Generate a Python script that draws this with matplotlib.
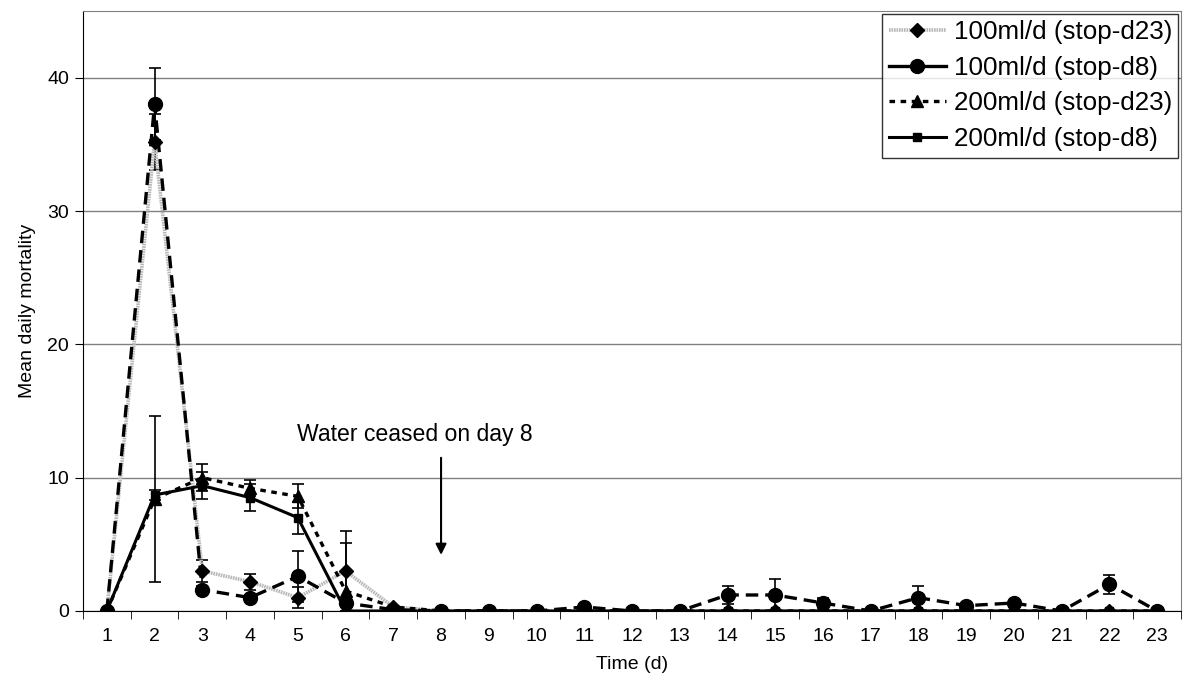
import numpy as np
import matplotlib
matplotlib.use("Agg")
from matplotlib import pyplot as plt
from matplotlib.ticker import MultipleLocator
from matplotlib.lines import Line2D

plt.rcParams['font.family'] = ['Liberation Sans', 'DejaVu Sans']
plt.rcParams['lines.scale_dashes'] = False

days = np.arange(1, 24)

# 100ml/d (stop-d23)
a_vals = [0, 35.2, 3.0, 2.2, 1.0, 3.0, 0.3, 0, 0, 0, 0, 0, 0, 0, 0, 0, 0, 0, 0, 0, 0, 0, 0]
a_err = [0, 2.1, 0.8, 0.6, 0.8, 3.0, 0, 0, 0, 0, 0, 0, 0, 0, 0, 0, 0, 0, 0, 0, 0, 0, 0]
# 100ml/d (stop-d8)
b_vals = [0, 38.0, 1.6, 1.0, 2.6, 0.6, 0.1, 0, 0, 0, 0.3, 0, 0, 1.2, 1.2, 0.6, 0, 1.0, 0.4, 0.6, 0, 2.0, 0]
b_err = [0, 2.7, 0.3, 0, 1.9, 0, 0, 0, 0, 0, 0.1, 0, 0, 0.7, 1.2, 0.4, 0, 0.9, 0.1, 0.1, 0, 0.7, 0]
# 200ml/d (stop-d23)
c_vals = [0, 8.4, 10.0, 9.2, 8.6, 1.5, 0.3, 0, 0, 0, 0, 0, 0, 0, 0, 0, 0, 0, 0, 0, 0, 0, 0]
c_err = [0, 6.2, 1.0, 0.6, 0.9, 3.6, 0, 0, 0, 0, 0, 0, 0, 0, 0, 0, 0, 0, 0, 0, 0, 0, 0]
# 200ml/d (stop-d8)
d_vals = [0, 8.7, 9.4, 8.5, 7.0, 0, 0, 0, 0, 0, 0, 0, 0, 0, 0, 0, 0, 0, 0, 0, 0, 0, 0]
d_err = [0, 0.4, 1.0, 1.0, 1.2, 0, 0, 0, 0, 0, 0, 0, 0, 0, 0, 0, 0, 0, 0, 0, 0, 0, 0]

labels = ['100ml/d (stop-d23)', '100ml/d (stop-d8)', '200ml/d (stop-d23)', '200ml/d (stop-d8)']

fig = plt.figure(figsize=(11.84, 6.97), dpi=100)
ax = fig.add_axes([0.0701, 0.1234, 0.9274, 0.8608])

ax.yaxis.grid(True, color='#808080', linewidth=1)
ax.set_axisbelow(True)

ekw = dict(ecolor='black', elinewidth=1.2, capsize=4, capthick=1.2)

ax.errorbar(days, a_vals, yerr=a_err, color='#b8b8b8', lw=2.6, dashes=(1.2, 0.6),
            marker='D', ms=7, mfc='black', mec='black', zorder=3, **ekw)
ax.errorbar(days, b_vals, yerr=b_err, color='black', lw=2.4, dashes=(9, 5),
            marker='o', ms=10, mfc='black', mec='black', zorder=4, **ekw)
ax.errorbar(days, c_vals, yerr=c_err, color='black', lw=2.4, dashes=(4, 4),
            marker='^', ms=9, mfc='black', mec='black', zorder=5, **ekw)
ax.errorbar(days, d_vals, yerr=d_err, color='black', lw=2.2, linestyle='-',
            marker='s', ms=6, mfc='black', mec='black', zorder=6, **ekw)

ax.set_xlim(0.5, 23.5)
ax.set_ylim(0, 45)
ax.set_xticks(days)
ax.set_xticklabels([str(d) for d in days])
ax.xaxis.set_minor_locator(MultipleLocator(1, offset=0.5))
ax.tick_params(axis='x', which='major', length=0, labelsize=14, pad=12)
ax.tick_params(axis='x', which='minor', length=6, direction='out', color='black')
ax.set_yticks([0, 10, 20, 30, 40])
ax.tick_params(axis='y', length=6, direction='out', labelsize=14, pad=4)

ax.spines['left'].set_color('black')
ax.spines['bottom'].set_color('black')
ax.spines['top'].set_color('#808080')
ax.spines['right'].set_color('#808080')

ax.set_xlabel('Time (d)', fontsize=14, labelpad=8)
ax.set_ylabel('Mean daily mortality', fontsize=14, labelpad=8)

ax.annotate('', xy=(8, 4.0), xytext=(8, 11.7),
            arrowprops=dict(arrowstyle='-|>', color='black', lw=1.5, mutation_scale=16))
ax.text(4.98, 13.2, 'Water ceased on day 8', fontsize=16.6, va='center', ha='left')

handles = [
    Line2D([], [], color='#b8b8b8', lw=2.6, dashes=(1.2, 0.6), marker='D', ms=7, mfc='black', mec='black'),
    Line2D([], [], color='black', lw=2.4, linestyle='-', marker='o', ms=10, mfc='black', mec='black'),
    Line2D([], [], color='black', lw=2.4, dashes=(4, 4), marker='^', ms=9, mfc='black', mec='black'),
    Line2D([], [], color='black', lw=2.2, linestyle='-', marker='s', ms=6, mfc='black', mec='black'),
]
leg = ax.legend(handles, labels, loc='upper right', bbox_to_anchor=(1.0, 1.0), borderaxespad=0.1,
                prop={'size': 18.7}, frameon=True, fancybox=False, handlelength=2.2,
                handletextpad=0.3, labelspacing=0.45, borderpad=0.25)
leg.get_frame().set_edgecolor('black')
leg.get_frame().set_linewidth(1)

fig.savefig('out.png', dpi=100)
